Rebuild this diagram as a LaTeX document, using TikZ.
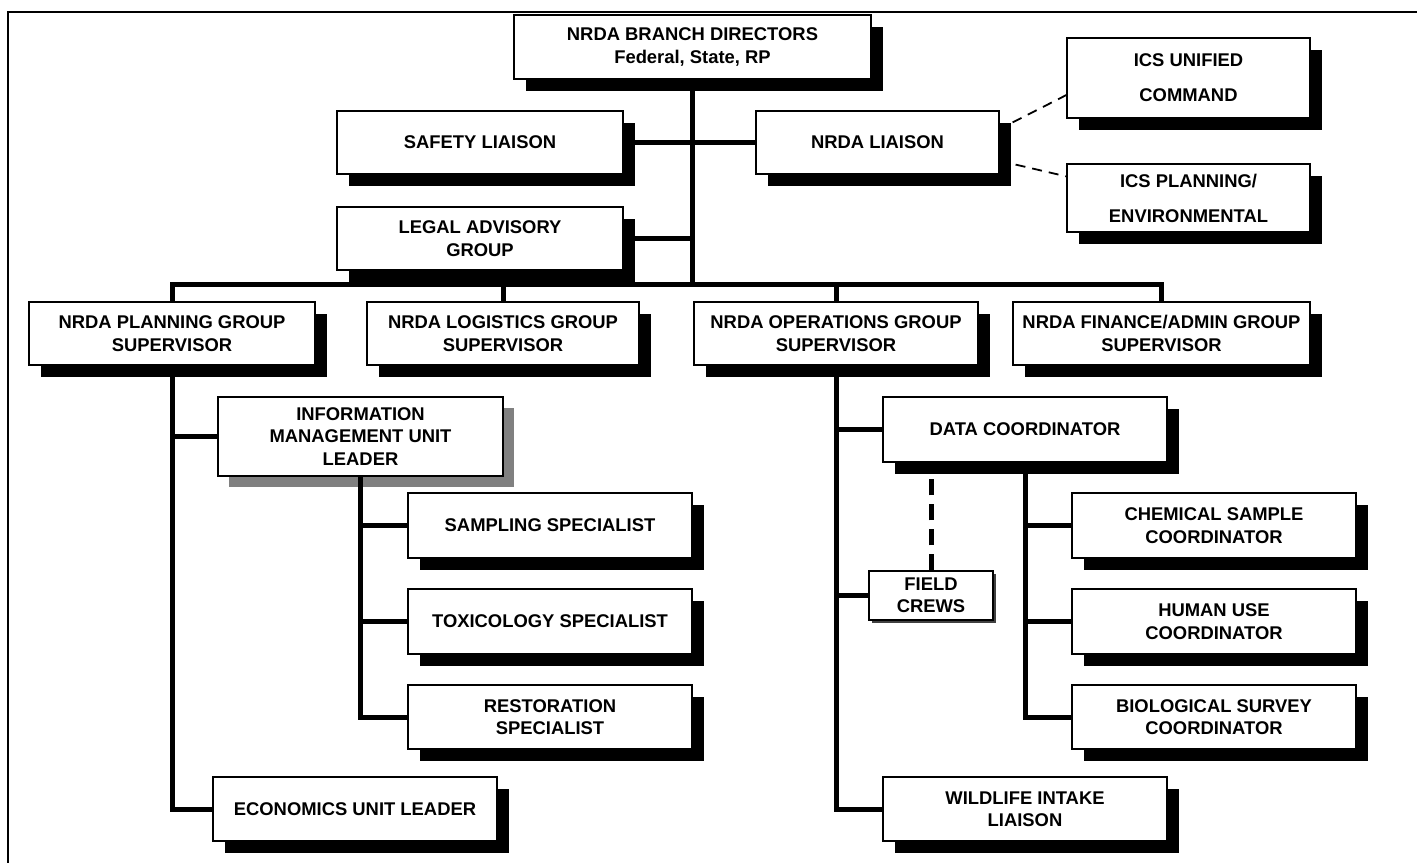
\documentclass[tikz,border=0pt]{standalone}
\usepackage{fontspec}
\setmainfont{Liberation Sans}
\usetikzlibrary{shadows}
\definecolor{ChartInk}{HTML}{000000}
\definecolor{ChartShade}{HTML}{808080}

\begin{document}
\begin{tikzpicture}[x=0.5pt, y=-0.5pt,
    font=\bfseries\fontsize{9.2}{11.2}\selectfont,
    dims/.style 2 args={minimum width=#1*0.5pt, minimum height=#2*0.5pt},
    plain/.style={draw, line width=0.6pt, fill=white, align=center, inner sep=1pt},
    box/.style={plain, drop shadow={shadow xshift=6pt, shadow yshift=-6pt, fill=ChartInk, opacity=1}},
    greybox/.style={plain, drop shadow={shadow xshift=5.5pt, shadow yshift=-5.5pt, fill=ChartShade, opacity=1}},
    smallbox/.style={plain, drop shadow={shadow xshift=1.5pt, shadow yshift=-1.5pt, fill=ChartInk!75, opacity=1}},
    widebox/.style={box, font=\bfseries\fontsize{9.2}{17.5}\selectfont},
    link/.style={line width=2.5pt},
    icslink/.style={line width=0.9pt, dash pattern=on 5pt off 3.5pt},
    crewlink/.style={line width=2.5pt, dash pattern=on 8pt off 4.5pt}
  ]
    \useasboundingbox (0,0) rectangle (1417,863);
    \fill[white] (0,0) rectangle (1417,863);
    \draw[line width=1pt] (1417,12) -- (8,12) -- (8,863);

    % command level
    \node[box, dims={357}{64}] (top) at (692.5,47) {NRDA BRANCH DIRECTORS\\Federal, State, RP};
    \node[box, dims={286}{63}] (safety) at (480,142.5) {SAFETY LIAISON};
    \node[box, dims={243}{63}] (liaison) at (877.5,142.5) {NRDA LIAISON};
    \node[widebox, dims={243}{80}] (icsu) at (1188.5,78) {ICS UNIFIED\\COMMAND};
    \node[widebox, dims={243}{68}] (icsp) at (1188.5,198) {ICS PLANNING/\\ENVIRONMENTAL};
    \node[box, dims={286}{63}] (legal) at (480,238.5) {LEGAL ADVISORY\\GROUP};

    % group supervisors
    \node[box, dims={286}{63}] (plan) at (172,333.5) {NRDA PLANNING GROUP\\SUPERVISOR};
    \node[box, dims={272}{63}] (logi) at (503,333.5) {NRDA LOGISTICS GROUP\\SUPERVISOR};
    \node[box, dims={284}{63}] (oper) at (836,333.5) {NRDA OPERATIONS GROUP\\SUPERVISOR};
    \node[box, dims={297}{63}] (fin) at (1161.5,333.5) {NRDA FINANCE/ADMIN GROUP\\SUPERVISOR};

    % planning side
    \node[greybox, dims={285}{79}] (info) at (360.5,436.5) {INFORMATION\\MANAGEMENT UNIT\\LEADER};
    \node[box, dims={284}{65}] (samp) at (550,525.5) {SAMPLING SPECIALIST};
    \node[box, dims={284}{65}] (toxi) at (550,621.5) {TOXICOLOGY SPECIALIST};
    \node[box, dims={284}{64}] (rest) at (550,717) {RESTORATION\\SPECIALIST};
    \node[box, dims={284}{64}] (econ) at (355,809) {ECONOMICS UNIT LEADER};

    % operations side
    \node[box, dims={284}{65}] (data) at (1025,429.5) {DATA COORDINATOR};
    \node[smallbox, dims={124}{49}] (crews) at (931,595.5) {FIELD\\CREWS};
    \node[box, dims={284}{65}] (chem) at (1214,525.5) {CHEMICAL SAMPLE\\COORDINATOR};
    \node[box, dims={284}{65}] (human) at (1214,621.5) {HUMAN USE\\COORDINATOR};
    \node[box, dims={284}{64}] (bio) at (1214,717) {BIOLOGICAL SURVEY\\COORDINATOR};
    \node[box, dims={284}{64}] (wild) at (1025,809) {WILDLIFE INTAKE\\LIAISON};

    \coordinate (bar) at (692.5,284);

    % trunk and staff
    \draw[link] (top.south) -- (bar);
    \draw[link] (safety.east) -- (safety.east -| bar);
    \draw[link] (liaison.west) -- (liaison.west -| bar);
    \draw[link] (legal.east) -- (legal.east -| bar);
    \draw[icslink] ([shift={(13,12)}]liaison.north east) -- ([shift={(0,17)}]icsu.west);
    \draw[icslink] ([shift={(16,-10)}]liaison.south east) -- ([shift={(0,13)}]icsp.north west);

    % supervisors
    \draw[link] (plan.north) |- (bar) -| (fin.north);
    \draw[link] (logi.north) -- (logi.north |- bar);
    \draw[link] (oper.north) -- (oper.north |- bar);

    % planning branch
    \draw[link] (plan.south) |- (econ.west);
    \draw[link] (info.west -| plan.south) -- (info.west);
    \draw[link] (info.south) |- (rest.west);
    \draw[link] (samp.west -| info.south) -- (samp.west);
    \draw[link] (toxi.west -| info.south) -- (toxi.west);

    % operations branch
    \draw[link] (oper.south) |- (wild.west);
    \draw[link] (data.west -| oper.south) -- (data.west);
    \draw[link] (crews.west -| oper.south) -- (crews.west);
    \draw[crewlink] (crews.north) -- (crews.north |- data.south);
    \draw[link] (data.south) |- (bio.west);
    \draw[link] (chem.west -| data.south) -- (chem.west);
    \draw[link] (human.west -| data.south) -- (human.west);
  \end{tikzpicture}
\end{document}
